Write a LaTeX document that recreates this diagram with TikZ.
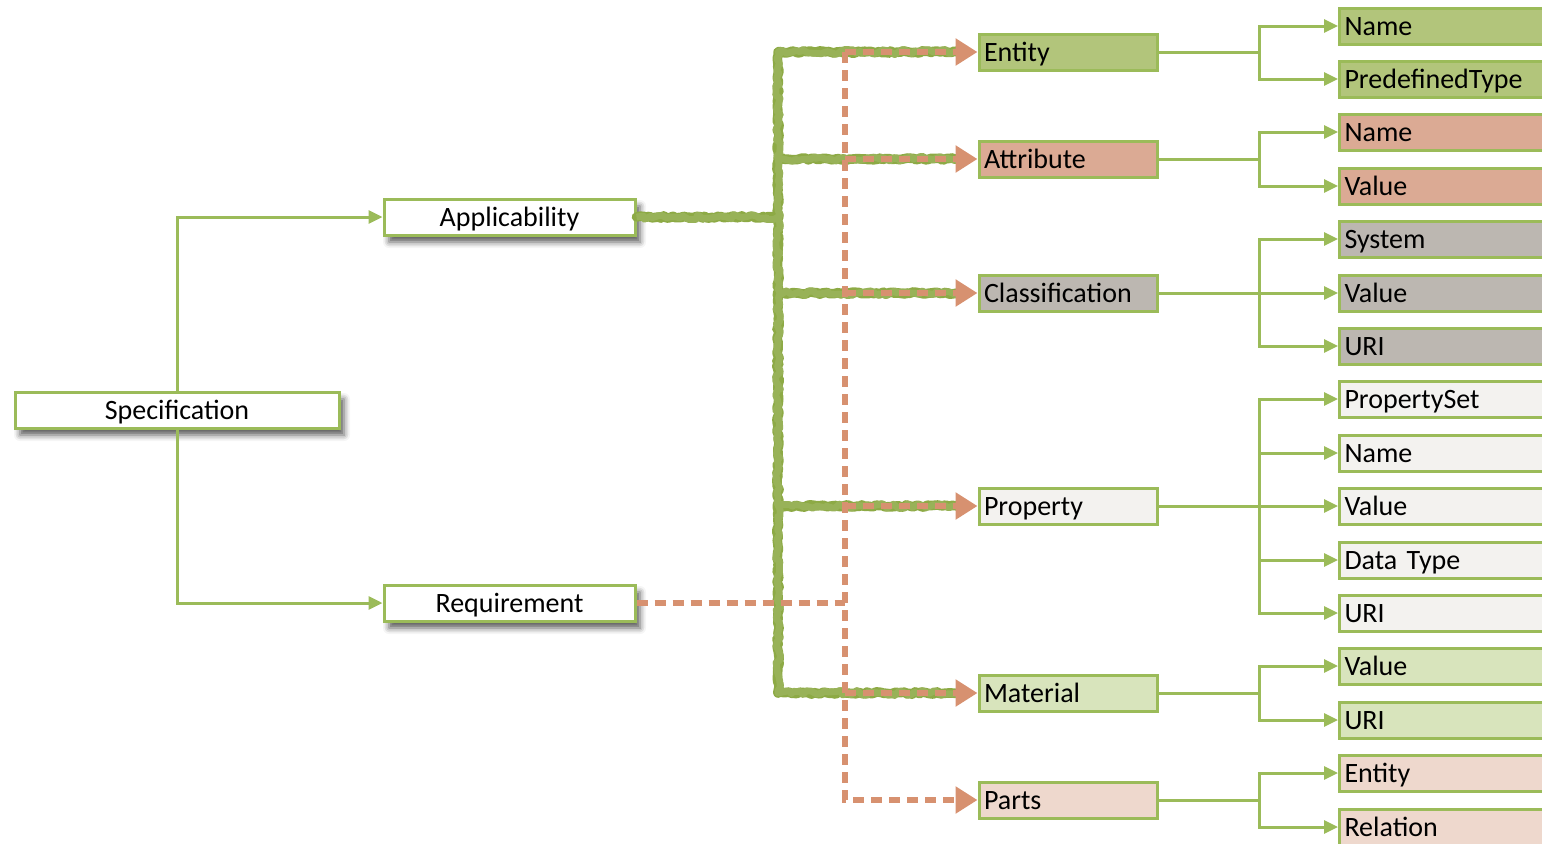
\documentclass[tikz,border=0pt]{standalone}
\usepackage{fontspec}
\setmainfont{Carlito}
\usetikzlibrary{arrows.meta,shadows.blur,decorations.pathmorphing}
\definecolor{bord}{HTML}{9BBB59}
\definecolor{cEnt}{HTML}{B2C57B}
\definecolor{cAtt}{HTML}{DBAA94}
\definecolor{cCls}{HTML}{BCB7B1}
\definecolor{cPrp}{HTML}{F3F2EF}
\definecolor{cMat}{HTML}{D8E4BC}
\definecolor{cPrt}{HTML}{EED8CD}
\definecolor{sal}{HTML}{D79170}
\definecolor{rgreen}{HTML}{8DAA45}
\tikzset{
  sbox/.style={draw=bord, line width=1.5pt, fill=white, minimum height=18pt,
    inner sep=0pt, text height=10pt, text depth=1pt,
    blur shadow={shadow xshift=2.5pt, shadow yshift=-3.5pt, shadow blur radius=3pt, shadow opacity=65}},
  mbox/.style={draw=bord, line width=1.5pt, minimum height=18pt, inner xsep=2.5pt, inner ysep=0pt,
    text width=84pt, align=left, text height=10pt, text depth=1pt},
  rbox/.style={draw=bord, line width=1.5pt, minimum height=18pt, inner xsep=2.5pt, inner ysep=0pt,
    text width=120pt, align=left, text height=10pt, text depth=1pt, anchor=west},
  conn/.style={draw=bord, line width=1.5pt, -{Triangle[length=7pt,width=6.5pt]}},
  plain/.style={draw=bord, line width=1.5pt},
  rough/.style={draw=rgreen, line width=4.8pt, line join=round, line cap=round,
    decorate, decoration={random steps, segment length=1.5pt, amplitude=0.6pt}},
  rough2/.style={draw=rgreen!90!white, line width=3.4pt, line join=round,
    decorate, decoration={random steps, segment length=2.2pt, amplitude=1.3pt}},
  dsh/.style={draw=sal, line width=2.8pt, dash pattern=on 5.5pt off 3.5pt},
  stip/.style={-{Triangle[length=11pt,width=13pt]}},
}
\begin{document}
\begin{tikzpicture}[x=0.5pt,y=-0.5pt, font=\fontsize{14}{16}\selectfont]
\useasboundingbox (0,0) rectangle (1542,843);
\clip (0,0) rectangle (1542,843);

% left nodes
\node[sbox, minimum width=162pt] (spec) at (177,410) {Specification};
\node[sbox, minimum width=125.5pt] (app) at (509.5,217) {Applicability};
\node[sbox, minimum width=125.5pt] (req) at (509.5,603) {Requirement};

\draw[conn] (spec.north) |- (app.west);
\draw[conn] (spec.south) |- (req.west);

% middle nodes
\node[mbox, fill=cEnt] (ent) at (1068,52) {Entity};
\node[mbox, fill=cAtt] (att) at (1068,159) {Attribute};
\node[mbox, fill=cCls] (cls) at (1068,293) {Classification};
\node[mbox, fill=cPrp] (prp) at (1068,506) {Property};
\node[mbox, fill=cMat] (mat) at (1068,693) {Material};
\node[mbox, fill=cPrt] (prt) at (1068,800) {Parts};

% right nodes
\node[rbox, fill=cEnt] (r1) at (1338,26) {Name};
\node[rbox, fill=cEnt] (r2) at (1338,79) {PredefinedType};
\node[rbox, fill=cAtt] (r3) at (1338,132) {Name};
\node[rbox, fill=cAtt] (r4) at (1338,186) {Value};
\node[rbox, fill=cCls] (r5) at (1338,239) {System};
\node[rbox, fill=cCls] (r6) at (1338,293) {Value};
\node[rbox, fill=cCls] (r7) at (1338,346) {URI};
\node[rbox, fill=cPrp] (r8) at (1338,399) {PropertySet};
\node[rbox, fill=cPrp] (r9) at (1338,453) {Name};
\node[rbox, fill=cPrp] (r10) at (1338,506) {Value};
\node[rbox, fill=cPrp] (r11) at (1338,560) {Data Type};
\node[rbox, fill=cPrp] (r12) at (1338,613) {URI};
\node[rbox, fill=cMat] (r13) at (1338,666) {Value};
\node[rbox, fill=cMat] (r14) at (1338,720) {URI};
\node[rbox, fill=cPrt] (r15) at (1338,773) {Entity};
\node[rbox, fill=cPrt] (r16) at (1338,827) {Relation};

% branch points
\coordinate (bEnt) at (1259,52);
\coordinate (bAtt) at (1259,159);
\coordinate (bCls) at (1259,293);
\coordinate (bPrp) at (1259,506);
\coordinate (bMat) at (1259,693);
\coordinate (bPrt) at (1259,800);

\draw[plain] (ent.east) -- (bEnt);
\draw[conn] (bEnt) |- (r1.west);
\draw[conn] (bEnt) |- (r2.west);
\draw[plain] (att.east) -- (bAtt);
\draw[conn] (bAtt) |- (r3.west);
\draw[conn] (bAtt) |- (r4.west);
\draw[plain] (cls.east) -- (bCls);
\draw[conn] (bCls) |- (r5.west);
\draw[conn] (bCls) -- (r6.west);
\draw[conn] (bCls) |- (r7.west);
\draw[plain] (prp.east) -- (bPrp);
\draw[conn] (bPrp) |- (r8.west);
\draw[conn] (bPrp) |- (r9.west);
\draw[conn] (bPrp) -- (r10.west);
\draw[conn] (bPrp) |- (r11.west);
\draw[conn] (bPrp) |- (r12.west);
\draw[plain] (mat.east) -- (bMat);
\draw[conn] (bMat) |- (r13.west);
\draw[conn] (bMat) |- (r14.west);
\draw[plain] (prt.east) -- (bPrt);
\draw[conn] (bPrt) |- (r15.west);
\draw[conn] (bPrt) |- (r16.west);

% rough green applicability lines
\coordinate (tTop) at (778,52);
\coordinate (tApp) at (778,217);
\coordinate (tAtt) at (778,159);
\coordinate (tCls) at (778,293);
\coordinate (tPrp) at (778,506);
\coordinate (tBot) at (778,693);
\foreach \s in {rough,rough2}{
  \draw[\s] (app.east) -- (tApp);
  \draw[\s] ([xshift=-10pt]ent.west) -- (tTop) -- (tBot) -- ([xshift=-10pt]mat.west);
  \draw[\s] (tAtt) -- ([xshift=-10pt]att.west);
  \draw[\s] (tCls) -- ([xshift=-10pt]cls.west);
  \draw[\s] (tPrp) -- ([xshift=-10pt]prp.west);
}

% salmon dashed requirement lines
\coordinate (dTop) at (845,52);
\coordinate (dReq) at (845,603);
\coordinate (dBot) at (845,800);
\draw[dsh] (req.east) -- (dReq);
\draw[dsh, stip] (dTop) -- (dBot) -- (prt.west);
\draw[dsh, stip] (dTop) -- (ent.west);
\draw[dsh, stip] (845,159) -- (att.west);
\draw[dsh, stip] (845,293) -- (cls.west);
\draw[dsh, stip] (845,506) -- (prp.west);
\draw[dsh, stip] (845,693) -- (mat.west);
\end{tikzpicture}
\end{document}
